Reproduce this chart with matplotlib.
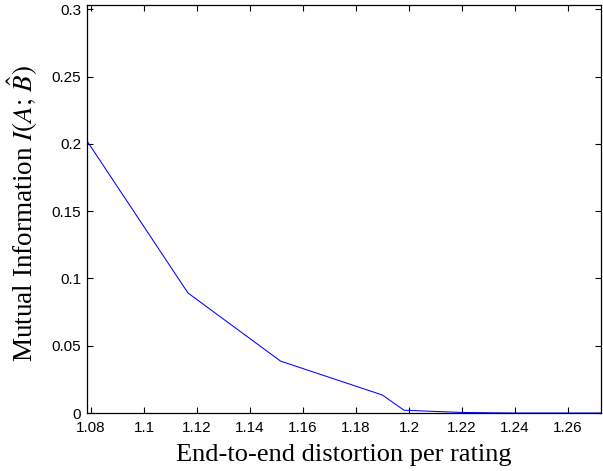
import matplotlib
matplotlib.use('Agg')
import matplotlib.pyplot as plt

# end-to-end distortion vs mutual information
distortion = [1.0784, 1.1166, 1.1515, 1.1899, 1.1981, 1.2200, 1.2400, 1.2600, 1.2726]
mutual_info = [0.2025, 0.0892, 0.0386, 0.0134, 0.0021, 0.0004, 0.0, 0.0, 0.0]

xticks = [1.08, 1.1, 1.12, 1.14, 1.16, 1.18, 1.2, 1.22, 1.24, 1.26]
xticklabels = ['1.08', '1.1', '1.12', '1.14', '1.16', '1.18', '1.2', '1.22', '1.24', '1.26']
yticks = [0, 0.05, 0.1, 0.15, 0.2, 0.25, 0.3]
yticklabels = ['0', '0.05', '0.1', '0.15', '0.2', '0.25', '0.3']

plt.rcParams['mathtext.fontset'] = 'stix'

fig = plt.figure(figsize=(6.03, 4.71), dpi=100)
ax = fig.add_axes([0.1438, 0.1231, 0.8537, 0.8663])
ax.plot(distortion, mutual_info, color='blue', linewidth=0.75)

ax.set_xlim(1.0784, 1.2726)
ax.set_ylim(0, 0.3032)
ax.set_xticks(xticks)
ax.set_xticklabels(xticklabels, fontfamily='Liberation Sans', fontsize=11)
ax.set_yticks(yticks)
ax.set_yticklabels(yticklabels, fontfamily='Liberation Sans', fontsize=11)
ax.tick_params(direction='in', length=4, width=0.8, top=True, right=True)
ax.tick_params(axis='x', pad=6)
ax.tick_params(axis='y', pad=4)
for s in ax.spines.values():
    s.set_linewidth(0.9)

ax.set_xlabel('End-to-end distortion per rating', fontfamily='Liberation Serif', fontsize=19, labelpad=6)
ax.set_ylabel(r'Mutual Information $I(A;\,\hat{B})$', fontfamily='Liberation Serif', fontsize=19.5)
ax.yaxis.set_label_coords(-0.09, 0.49)

fig.savefig('out.png', dpi=100)
